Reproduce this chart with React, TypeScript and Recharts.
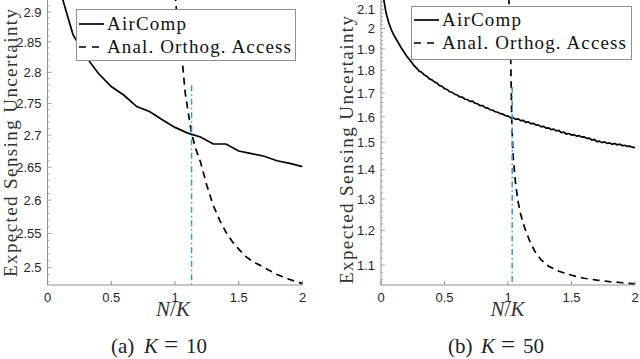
import React from 'react';
import { LineChart, Line, XAxis, YAxis, Label } from 'recharts';

// ---------- data ----------
const K10 = 10;
const K50 = 50;
const xTicks = [0, 0.5, 1, 1.5, 2];
const yTicksK10 = [2.5, 2.55, 2.6, 2.65, 2.7, 2.75, 2.8, 2.85, 2.9];
const yTicksK50 = [1.1, 1.2, 1.3, 1.4, 1.5, 1.6, 1.7, 1.8, 1.9, 2, 2.1];

// AirComp, K = 10, N = 1..20
const airCompK10 = [2.935, 2.862, 2.826, 2.798, 2.777, 2.763, 2.745, 2.737, 2.724, 2.712,
  2.703, 2.697, 2.686, 2.686, 2.675, 2.671, 2.667, 2.660, 2.656, 2.651];
// Analog orthogonal access, K = 10
const orthoXK10 = [1.0, 1.03, 1.06, 1.08, 1.1, 1.13, 1.16, 1.2, 1.25, 1.3, 1.35, 1.4, 1.45, 1.5, 1.55, 1.6, 1.7, 1.8, 1.9, 2.0];
const orthoK10 = [2.93, 2.86, 2.812, 2.767, 2.74, 2.703, 2.68, 2.658, 2.622, 2.592, 2.57, 2.552, 2.538, 2.527, 2.517, 2.51, 2.5, 2.49, 2.483, 2.477];
const crossK10 = { x: 1.13, top: 2.779, bottom: 2.3 };

// AirComp, K = 50, N = 1..100
const airCompK50 = [2.16, 2.08, 2.032, 1.996, 1.969, 1.947, 1.926, 1.904, 1.886, 1.867,
  1.852, 1.838, 1.821, 1.81, 1.797, 1.791, 1.779, 1.773, 1.762, 1.757,
  1.748, 1.743, 1.732, 1.729, 1.718, 1.715, 1.705, 1.703, 1.694, 1.691,
  1.683, 1.682, 1.673, 1.672, 1.664, 1.665, 1.656, 1.654, 1.646, 1.646,
  1.638, 1.636, 1.629, 1.627, 1.621, 1.619, 1.613, 1.611, 1.605, 1.603,
  1.597, 1.597, 1.59, 1.592, 1.585, 1.586, 1.578, 1.58, 1.573, 1.574,
  1.568, 1.567, 1.561, 1.562, 1.555, 1.556, 1.549, 1.551, 1.544, 1.546,
  1.538, 1.539, 1.532, 1.534, 1.528, 1.53, 1.524, 1.526, 1.52, 1.521,
  1.515, 1.516, 1.509, 1.511, 1.503, 1.505, 1.499, 1.502, 1.496, 1.498,
  1.493, 1.496, 1.491, 1.493, 1.488, 1.489, 1.485, 1.486, 1.482, 1.48];
const orthoXK50 = [1.0, 1.02, 1.03, 1.04, 1.06, 1.08, 1.1, 1.13, 1.17, 1.21, 1.26, 1.32, 1.4, 1.5, 1.6, 1.7, 1.8, 1.9, 2.0];
const orthoK50 = [2.3, 1.9, 1.58, 1.45, 1.35, 1.29, 1.25, 1.21, 1.17, 1.14, 1.115, 1.097, 1.083, 1.072, 1.064, 1.059, 1.055, 1.052, 1.049];
const crossK50 = { x: 1.033, top: 1.726, bottom: 1.0 };

const seriesNames = ['AirComp', 'Anal. Orthog. Access'];

// ---------- helpers ----------
const toPoints = (xs: number[], ys: number[]) => xs.map((x, i) => ({ x, y: ys[i] }));
const nOverK = (vals: number[], K: number) => vals.map((_, i) => (i + 1) / K);

const AXIS = '#8f8f8f';
const TICKTXT = '#262626';
const SANS = '"Liberation Sans", Arial, Helvetica, sans-serif';
const SERIF = '"Liberation Serif", "DejaVu Serif", "Times New Roman", serif';

const minorTicks = (lo: number, hi: number, step: number, majors: number[]) => {
  const out: number[] = [];
  const n = Math.round((hi - lo) / step);
  for (let i = 0; i <= n; i++) {
    const v = +(lo + i * step).toFixed(4);
    if (!majors.some((m) => Math.abs(m - v) < 1e-6)) out.push(v);
  }
  return out;
};

const makeYTick = (side: 'left' | 'right', majors: number[], margin: number, showLabel: boolean) => (props: any) => {
  const { x, y, payload } = props;
  const v = payload.value;
  const isMajor = majors.some((m) => Math.abs(m - v) < 1e-6);
  const ax = side === 'left' ? x + margin : x - margin;
  const len = isMajor ? 4 : 2;
  const x2 = side === 'left' ? ax + len : ax - len;
  return (
    <g>
      <line x1={ax} y1={y} x2={x2} y2={y} stroke={AXIS} strokeWidth={0.8} />
      {showLabel && isMajor && (
        <text x={x} y={y} dy="0.36em" textAnchor="end" fontSize={13} fill={TICKTXT} style={{ fontFamily: SANS }}>
          {String(v)}
        </text>
      )}
    </g>
  );
};

type PanelProps = {
  air: { x: number; y: number }[];
  ortho: { x: number; y: number }[];
  cross: { x: number; top: number; bottom: number };
  domain: [number, number];
  majors: number[];
  minors: number[];
  marginLeft: number;
  marginRight: number;
  yTitle: { x: number; y: number };
  xTitleShift: number;
  legend: { left: number; top: number; w: number; h: number; r1: number; r2: number; t1: number; t2: number };
};

const Panel = (p: PanelProps) => {
  const allY = [...p.majors, ...p.minors].sort((a, b) => a - b);
  const crossData = [{ x: p.cross.x, y: p.cross.top }, { x: p.cross.x, y: p.cross.bottom }];
  const L = p.legend;
  return (
    <div style={{ position: 'relative', width: 320, height: 359 }}>
      <LineChart width={320} height={359} margin={{ top: 0, right: p.marginRight, bottom: 44, left: p.marginLeft }}>
        <XAxis
          xAxisId="b"
          type="number"
          dataKey="x"
          domain={[0, 2]}
          ticks={xTicks}
          interval={0}
          allowDataOverflow
          height={30}
          stroke={AXIS}
          tickSize={-4}
          tickMargin={12}
          tick={{ fontSize: 13, fill: TICKTXT, fontFamily: SANS }}
          tickFormatter={(v: number) => String(v)}
        >
          <Label
            content={(lp: any) => {
              const vb = lp.viewBox;
              const cx = vb.x + vb.width / 2 + p.xTitleShift;
              return (
                <text x={cx} y={316} textAnchor="middle" fontSize={21} fill="#333" style={{ fontFamily: SERIF }}>
                  <tspan fontStyle="italic">N</tspan>
                  <tspan>/</tspan>
                  <tspan fontStyle="italic">K</tspan>
                </text>
              );
            }}
          />
        </XAxis>
        <XAxis
          xAxisId="t"
          orientation="top"
          type="number"
          dataKey="x"
          domain={[0, 2]}
          ticks={xTicks}
          interval={0}
          allowDataOverflow
          height={0}
          stroke={AXIS}
          tickSize={-4}
          tickFormatter={() => ''}
        />
        <YAxis
          yAxisId="l"
          type="number"
          scale="log"
          domain={p.domain}
          allowDataOverflow
          ticks={allY}
          interval={0}
          width={40}
          stroke={AXIS}
          tickSize={0}
          tickMargin={6}
          tickLine={false}
          tick={makeYTick('left', p.majors, 6, true)}
        >
          <Label
            content={() => (
              <text
                transform={`translate(${p.yTitle.x},${p.yTitle.y}) rotate(-90)`}
                textAnchor="middle"
                fontSize={19}
                fill="#333"
                textLength={268}
                lengthAdjust="spacing"
                style={{ fontFamily: SERIF }}
              >
                Expected Sensing Uncertainty
              </text>
            )}
          />
        </YAxis>
        <YAxis
          yAxisId="r"
          orientation="right"
          type="number"
          scale="log"
          domain={p.domain}
          allowDataOverflow
          ticks={allY}
          interval={0}
          width={0}
          stroke={AXIS}
          tickSize={0}
          tickMargin={6}
          tickLine={false}
          tick={makeYTick('right', p.majors, 6, false)}
        />
        <Line
          xAxisId="b"
          yAxisId="l"
          data={p.air}
          dataKey="y"
          name={seriesNames[0]}
          stroke="#000"
          strokeWidth={1.7}
          dot={false}
          activeDot={false}
          isAnimationActive={false}
        />
        <Line
          xAxisId="b"
          yAxisId="l"
          data={p.ortho}
          dataKey="y"
          name={seriesNames[1]}
          stroke="#000"
          strokeWidth={1.7}
          strokeDasharray="7 5"
          dot={false}
          activeDot={false}
          isAnimationActive={false}
        />
        <Line
          xAxisId="b"
          yAxisId="l"
          data={crossData}
          dataKey="y"
          stroke="#3896dc"
          strokeWidth={1.5}
          strokeDasharray="6 3 1.5 3"
          dot={false}
          activeDot={false}
          isAnimationActive={false}
        />
      </LineChart>
      <svg style={{ position: 'absolute', left: L.left, top: L.top }} width={L.w} height={L.h}>
        <rect x={0.5} y={0.5} width={L.w - 1} height={L.h - 1} fill="#fff" stroke={AXIS} strokeWidth={1} />
        <line x1={3} y1={L.r1} x2={28} y2={L.r1} stroke="#000" strokeWidth={1.7} />
        <text x={31} y={L.t1} fontSize={19} fill="#111" textLength={79} lengthAdjust="spacing" style={{ fontFamily: SERIF }}>
          {seriesNames[0]}
        </text>
        <line x1={3} y1={L.r2} x2={24} y2={L.r2} stroke="#000" strokeWidth={1.7} strokeDasharray="7 6" />
        <text x={31} y={L.t2} fontSize={19} fill="#111" textLength={184} lengthAdjust="spacing" style={{ fontFamily: SERIF }}>
          {seriesNames[1]}
        </text>
      </svg>
    </div>
  );
};

const Caption = ({ tag, k, x0 }: { tag: string; k: number; x0: number }) => (
  <svg style={{ position: 'absolute', left: x0 - 4, top: 324 }} width={124} height={35}>
    <text y={29} fontSize={21} fill="#222" style={{ fontFamily: SERIF }}>
      <tspan x={4}>{`(${tag})`}</tspan>
      <tspan x={37} fontStyle="italic">K</tspan>
      <tspan x={57} fontSize={25}>=</tspan>
      <tspan x={79}>{String(k)}</tspan>
    </text>
  </svg>
);

export default function App() {
  const airK10 = toPoints(nOverK(airCompK10, K10), airCompK10);
  const airK50 = toPoints(nOverK(airCompK50, K50), airCompK50);
  const orK10 = toPoints(orthoXK10, orthoK10);
  const orK50 = toPoints(orthoXK50, orthoK50);
  const minK10 = minorTicks(2.48, 2.91, 0.01, yTicksK10);
  const minK50 = minorTicks(1.06, 2.14, 0.02, yTicksK50);
  return (
    <div style={{ position: 'absolute', left: 0, top: 0, width: 640, height: 359, background: '#fff', overflow: 'hidden' }}>
      <div style={{ position: 'absolute', left: 0, top: 0 }}>
        <Panel
          air={airK10}
          ortho={orK10}
          cross={crossK10}
          domain={[2.475, 2.92]}
          majors={yTicksK10}
          minors={minK10}
          marginLeft={7.5}
          marginRight={17.5}
          yTitle={{ x: 16.5, y: 143 }}
          xTitleShift={-2}
          legend={{ left: 76, top: 9, w: 220, h: 52, r1: 15, r2: 38, t1: 21, t2: 44 }}
        />
      </div>
      <div style={{ position: 'absolute', left: 320, top: 0 }}>
        <Panel
          air={airK50}
          ortho={orK50}
          cross={crossK50}
          domain={[1.046, 2.15]}
          majors={yTicksK50}
          minors={minK50}
          marginLeft={21}
          marginRight={5}
          yTitle={{ x: 33, y: 150 }}
          xTitleShift={-0.5}
          legend={{ left: 91, top: 6, w: 221, h: 54, r1: 14, r2: 37, t1: 20, t2: 43 }}
        />
      </div>
      <Caption tag="a" k={10} x0={111} />
      <Caption tag="b" k={50} x0={448} />
    </div>
  );
}
